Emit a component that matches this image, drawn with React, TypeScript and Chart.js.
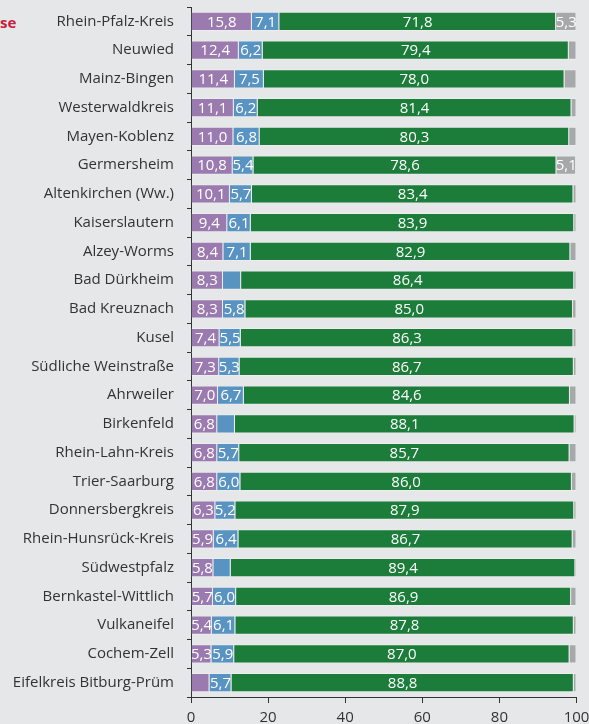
import React, { useEffect, useRef } from 'react';
import { Chart, registerables } from 'chart.js';

Chart.register(...registerables);

const categories = [
  'Rhein-Pfalz-Kreis', 'Neuwied', 'Mainz-Bingen', 'Westerwaldkreis', 'Mayen-Koblenz',
  'Germersheim', 'Altenkirchen (Ww.)', 'Kaiserslautern', 'Alzey-Worms', 'Bad Dürkheim',
  'Bad Kreuznach', 'Kusel', 'Südliche Weinstraße', 'Ahrweiler', 'Birkenfeld',
  'Rhein-Lahn-Kreis', 'Trier-Saarburg', 'Donnersbergkreis', 'Rhein-Hunsrück-Kreis',
  'Südwestpfalz', 'Bernkastel-Wittlich', 'Vulkaneifel', 'Cochem-Zell', 'Eifelkreis Bitburg-Prüm',
];
const purpleValues = [15.8, 12.4, 11.4, 11.1, 11.0, 10.8, 10.1, 9.4, 8.4, 8.3, 8.3, 7.4, 7.3, 7.0, 6.8, 6.8, 6.8, 6.3, 5.9, 5.8, 5.7, 5.4, 5.3, 4.8];
const blueValues = [7.1, 6.2, 7.5, 6.2, 6.8, 5.4, 5.7, 6.1, 7.1, 4.7, 5.8, 5.5, 5.3, 6.7, 4.6, 5.7, 6.0, 5.2, 6.4, 4.5, 6.0, 6.1, 5.9, 5.7];
const greenValues = [71.8, 79.4, 78.0, 81.4, 80.3, 78.6, 83.4, 83.9, 82.9, 86.4, 85.0, 86.3, 86.7, 84.6, 88.1, 85.7, 86.0, 87.9, 86.7, 89.4, 86.9, 87.8, 87.0, 88.8];
const grayValues = [5.3, 2.0, 3.1, 1.3, 1.9, 5.1, 0.8, 0.6, 1.6, 0.6, 0.9, 0.8, 0.7, 1.7, 0.5, 1.8, 1.2, 0.6, 1.0, 0.3, 1.4, 0.7, 1.8, 0.7];
const xTickValues = [0, 20, 40, 60, 80, 100];

const FONT = '"Open Sans", "DejaVu Sans", sans-serif';

export default function App() {
  const ref = useRef<HTMLCanvasElement>(null);

  useEffect(() => {
    document.body.style.margin = '0';
    const canvas = ref.current;
    if (!canvas) return;

    const labelPlugin = {
      id: 'segLabels',
      afterDatasetsDraw(chart: any) {
        const ctx = chart.ctx;
        const area = chart.chartArea;
        ctx.save();
        ctx.beginPath();
        ctx.rect(area.left, area.top, area.right - area.left, area.bottom - area.top);
        ctx.clip();
        ctx.font = `15px ${FONT}`;
        ctx.fillStyle = '#ffffff';
        ctx.textAlign = 'center';
        ctx.textBaseline = 'middle';
        chart.data.datasets.forEach((ds: any, di: number) => {
          const meta = chart.getDatasetMeta(di);
          meta.data.forEach((el: any, i: number) => {
            const v = ds.data[i];
            if (v < 5) return;
            const p = el.getProps(['x', 'base', 'y'], true);
            ctx.fillText(v.toFixed(1).replace('.', ','), (p.x + p.base) / 2, p.y + 1);
          });
        });
        ctx.restore();
      },
    };

    const mk = (label: string, data: number[], color: string) => ({
      label,
      data,
      backgroundColor: color,
      borderColor: 'rgba(255,255,255,0.25)',
      borderWidth: 1,
      borderSkipped: 'start',
      barPercentage: 0.67,
      categoryPercentage: 1,
    });

    const chart = new Chart(canvas, {
      type: 'bar',
      data: {
        labels: categories,
        datasets: [
          mk('A', purpleValues, '#9b7baf'),
          mk('B', blueValues, '#5893c1'),
          mk('C', greenValues, '#1b7d39'),
          mk('D', grayValues, '#a7a8aa'),
        ],
      },
      options: {
        indexAxis: 'y',
        responsive: false,
        animation: false,
        layout: { padding: { top: 7, right: 23.5, left: 0, bottom: 0 } },
        plugins: { legend: { display: false }, tooltip: { enabled: false } },
        scales: {
          x: {
            stacked: true,
            min: 0,
            max: 100,
            afterBuildTicks: (scale: any) => {
              scale.ticks = xTickValues.map((v) => ({ value: v }));
            },
            afterFit: (scale: any) => {
              scale.height = 27;
              scale.paddingLeft = 0;
              scale.paddingRight = 0;
            },
            ticks: { color: '#333333', font: { family: FONT, size: 15 }, padding: 6, maxRotation: 0 },
            grid: { drawOnChartArea: false, drawTicks: true, tickLength: 6, color: '#333333' },
            border: { display: true, color: '#333333', width: 1 },
          },
          y: {
            stacked: true,
            afterFit: (scale: any) => {
              scale.width = 191;
              scale.paddingTop = 0;
              scale.paddingBottom = 0;
            },
            ticks: { color: '#333333', font: { family: FONT, size: 15 }, padding: 13, autoSkip: false },
            grid: { drawOnChartArea: false, drawTicks: true, tickLength: 4, color: '#333333', offset: true },
            border: { display: true, color: '#333333', width: 1 },
          },
        },
      },
      plugins: [labelPlugin],
    } as any);

    return () => chart.destroy();
  }, []);

  return (
    <div style={{ position: 'relative', width: 589, height: 724, overflow: 'hidden', background: '#e6e7e8' }}>
      <div
        style={{
          position: 'absolute',
          left: 0,
          top: 12,
          fontFamily: FONT,
          fontWeight: 700,
          fontSize: 15,
          lineHeight: '20px',
          color: '#c8203f',
        }}
      >
        se
      </div>
      <div style={{ position: 'absolute', left: 0, top: 0, width: 600, height: 724 }}>
        <canvas ref={ref} width={600} height={724} />
      </div>
    </div>
  );
}
